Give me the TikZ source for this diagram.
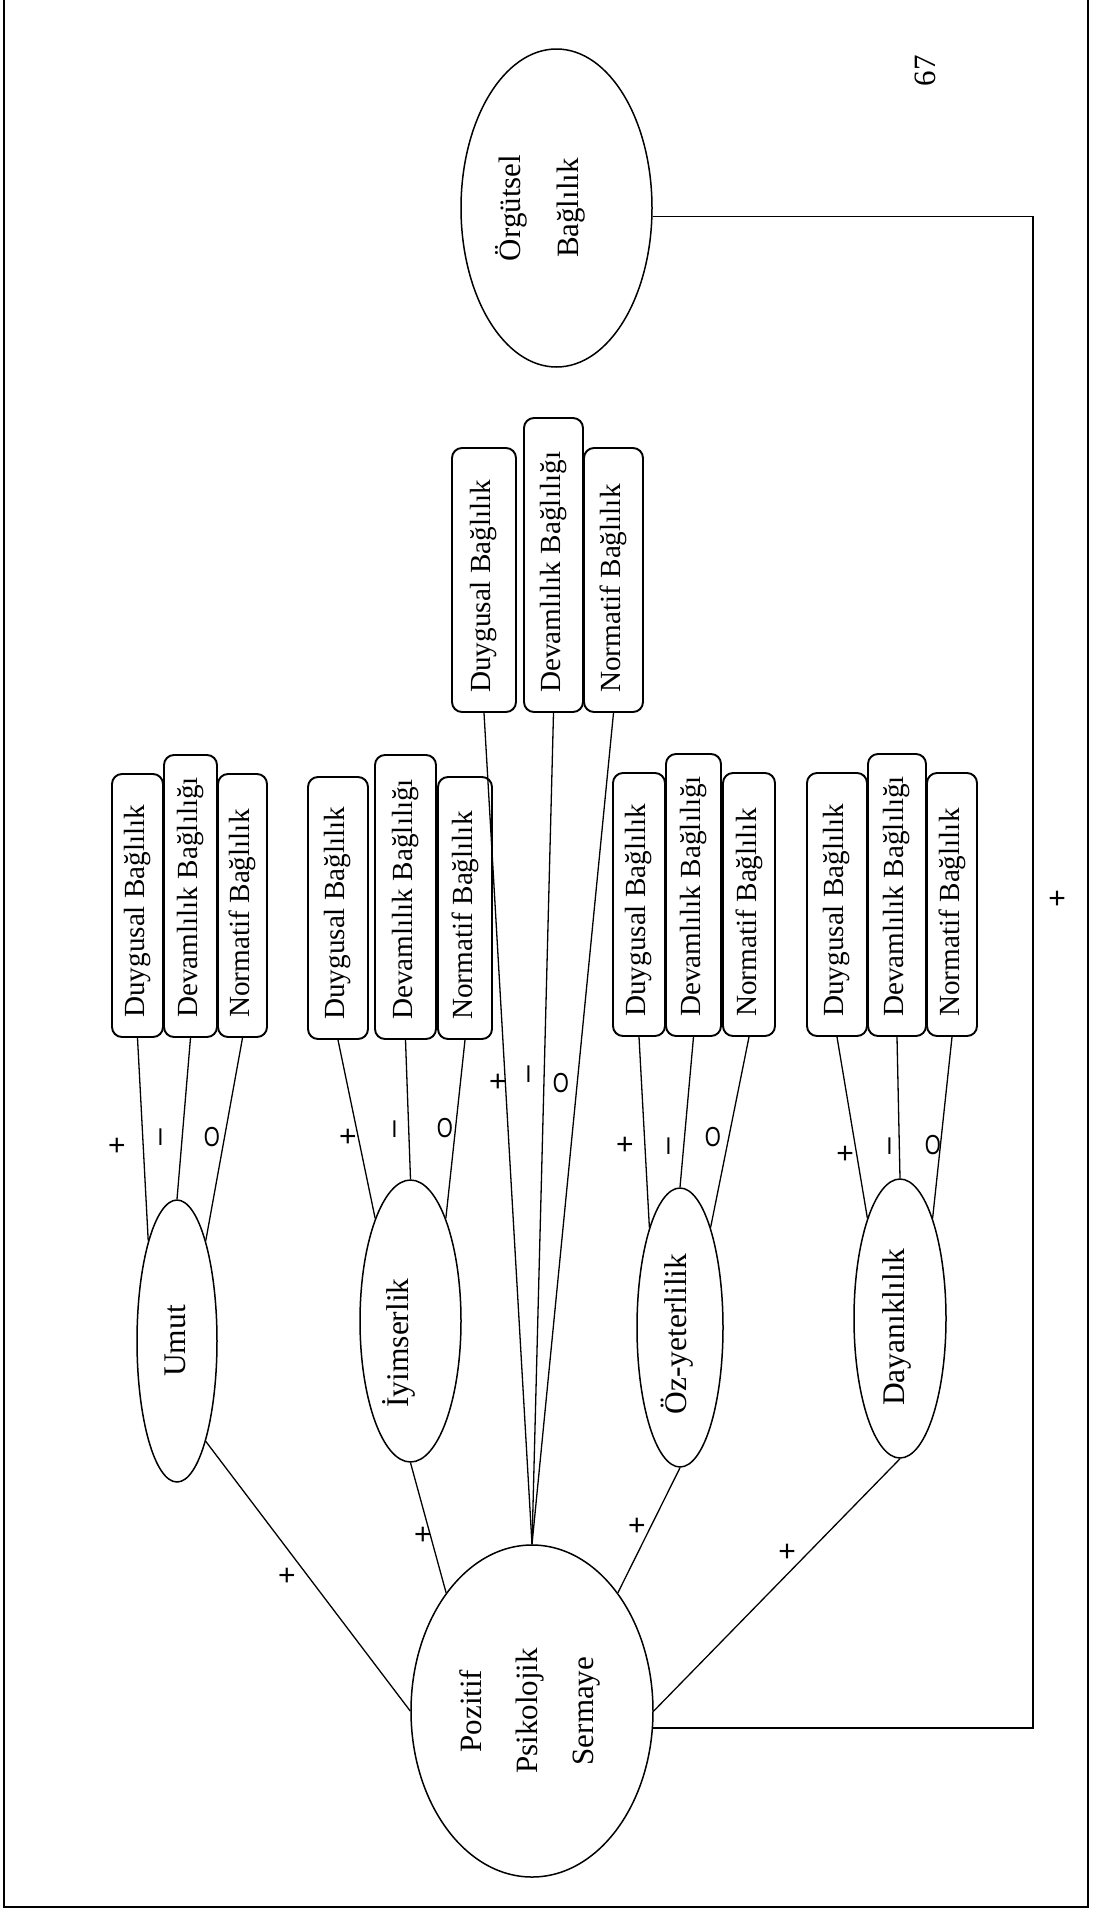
\documentclass[tikz,border=0pt]{standalone}
\usepackage{graphicx}
\usepackage{fontspec}
\setmainfont{Liberation Serif}
\newfontfamily\labfont{Liberation Sans}
\usetikzlibrary{shapes.geometric}
\tikzset{
  ell/.style={draw, ellipse, inner sep=0pt, line width=1.5pt},
  bx/.style={draw, rectangle, rounded corners=10pt, inner sep=0pt, line width=1.9pt},
  btxt/.style={rotate=90, inner sep=0pt, anchor=west, font=\fontsize{29.2}{35}\selectfont},
  etxt/.style={rotate=90, inner sep=0pt, align=center, font=\fontsize{31.5}{56}\selectfont},
  conn/.style={line width=1.3pt},
  sign/.style={inner sep=0pt, font=\labfont\fontsize{30}{32}\selectfont},
  osign/.style={inner sep=0pt, font=\labfont\fontsize{27.5}{30}\selectfont},
}
\newcommand\mkbox[6]{%
  \node[bx, minimum width={(#3-#2)*1pt}, minimum height={(#5-#4)*1pt}] (#1) at ({(#2+#3)/2},{(#4+#5)/2}) {};
  \node[btxt] (#1t) at ({(#2+#3)/2},{#5-19}) {#6};
}
\begin{document}
\begin{tikzpicture}[x=1pt,y=-1pt]
\useasboundingbox (0,0) rectangle (1106,1914);
% page frame
\draw[line width=2pt] (4,0) -- (4,1907) -- (1088,1907) -- (1088,0);
\node[rotate=90, inner sep=0pt, font=\fontsize{31}{31}\selectfont] (pg) at (925,70.5) {67};

% ellipses
\node[ell, minimum width=191pt, minimum height=318pt] (org) at (556.5,208) {};
\node[etxt, font=\fontsize{31}{58}\selectfont] (orgt) at (540,208) {Örgütsel\\Bağlılık};
\node[ell, minimum width=242pt, minimum height=332pt] (pps) at (532,1711) {};
\node[etxt, font=\fontsize{31}{56}\selectfont] (ppst) at (530,1711) {Pozitif\\Psikolojik\\Sermaye};
\node[ell, minimum width=80pt, minimum height=282pt] (umut) at (177,1341) {};
\node[etxt] (umutt) at (175,1341) {Umut};
\node[ell, minimum width=101pt, minimum height=282pt] (iyim) at (410.5,1321) {};
\node[etxt] (iyimt) at (399,1343) {İyimserlik};
\node[ell, minimum width=86pt, minimum height=279pt] (oz) at (680,1327.5) {};
\node[etxt] (ozt) at (677,1334) {Öz-yeterlilik};
\node[ell, minimum width=92pt, minimum height=279pt] (day) at (900,1318.5) {};
\node[etxt] (dayt) at (897,1327) {Dayanıklılık};

% boxes
\mkbox{ad}{112}{163}{774}{1037}{Duygusal Bağlılık}
\mkbox{av}{164}{217}{755}{1037}{Devamlılık Bağlılığı}
\mkbox{an}{218}{267}{774}{1037}{Normatif Bağlılık}
\mkbox{bd}{308}{368}{777}{1039}{Duygusal Bağlılık}
\mkbox{bv}{375}{436}{755}{1039}{Devamlılık Bağlılığı}
\mkbox{bn}{438}{492}{777}{1039}{Normatif Bağlılık}
\mkbox{cd}{452}{516}{448}{712}{Duygusal Bağlılık}
\mkbox{cv}{524}{583}{418}{712}{Devamlılık Bağlılığı}
\mkbox{cn}{584}{643}{448}{712}{Normatif Bağlılık}
\mkbox{dd}{613}{665}{773}{1036}{Duygusal Bağlılık}
\mkbox{dv}{666}{721}{754}{1036}{Devamlılık Bağlılığı}
\mkbox{dn}{723}{775}{773}{1036}{Normatif Bağlılık}
\mkbox{ed}{807}{867}{773}{1036}{Duygusal Bağlılık}
\mkbox{ev}{868}{926}{754}{1036}{Devamlılık Bağlılığı}
\mkbox{en}{927}{977}{773}{1036}{Normatif Bağlılık}

% connectors boxes -> ellipses
\draw[conn] (ad.south) -- (umut.106);
\draw[conn] (av.south) -- (umut.north);
\draw[conn] (an.south) -- (umut.74);
\draw[conn] (bd.south) -- (iyim.109);
\draw[conn] (bv.south) -- (iyim.north);
\draw[conn] (bn.south) -- (iyim.71);
\draw[conn] (cd.south) -- (pps.north);
\draw[conn] (cv.south) -- (pps.north);
\draw[conn] (cn.south) -- (pps.north);
\draw[conn] (dd.south) -- (oz.107);
\draw[conn] (dv.south) -- (oz.north);
\draw[conn] (dn.south) -- (oz.73);
\draw[conn] (ed.south) -- (day.108);
\draw[conn] (ev.south) -- (day.north);
\draw[conn] (en.south) -- (day.72);

% dimensions -> PPS
\draw[conn] (umut.-74) -- (pps.west);
\draw[conn] (iyim.south) -- (pps.126);
\draw[conn] (oz.south) -- (pps.54);
\draw[conn] (day.south) -- (pps.east);

% PPS -> Orgutsel
\coordinate (rc) at (1033,900);
\draw[line width=1.5pt] (org.-5) -- (org.-5 -| rc) -- (pps.-8 -| rc) -- (pps.-8);

% signs
\node[sign] (p1) at (117,1147) {+};
\node[sign, rotate=90] (m1) at (164,1137) {–};
\node[osign] (o1) at (212,1137) {\scalebox{0.75}[1]{O}};
\node[sign] (p2) at (348,1138) {+};
\node[sign, rotate=90] (m2) at (398,1129) {–};
\node[osign] (o2) at (445,1128) {\scalebox{0.75}[1]{O}};
\node[sign] (p3) at (498,1083) {+};
\node[sign, rotate=90] (m3) at (532,1074) {–};
\node[osign] (o3) at (561,1083) {\scalebox{0.75}[1]{O}};
\node[sign] (p4) at (625,1146) {+};
\node[sign, rotate=90] (m4) at (672,1146) {–};
\node[osign] (o4) at (713,1137) {\scalebox{0.75}[1]{O}};
\node[sign] (p5) at (845,1155) {+};
\node[sign, rotate=90] (m5) at (893,1146) {–};
\node[osign] (o5) at (933,1145) {\scalebox{0.75}[1]{O}};

\node[sign] (pa) at (287,1577) {+};
\node[sign] (pb) at (423,1536) {+};
\node[sign] (pc) at (637,1527) {+};
\node[sign] (pd) at (787,1553) {+};
\node[sign] (pe) at (1057,900) {+};
\end{tikzpicture}
\end{document}
